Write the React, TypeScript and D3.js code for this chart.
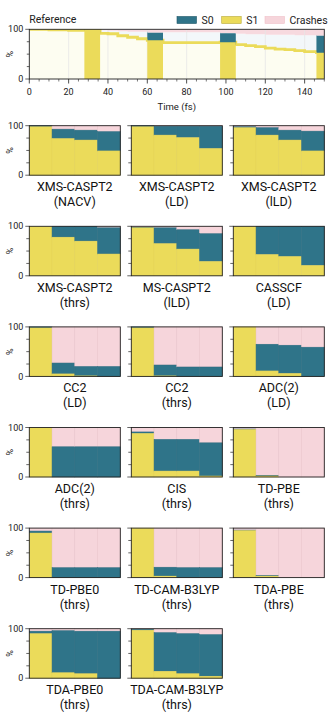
import React from "react";
import * as d3 from "d3";

// ---------- Reference (top panel) data ----------
const refTime = [0, 10, 20, 28, 36, 40, 45, 50, 55, 60, 68, 80, 97, 105, 110, 115, 120, 125, 130, 135, 140, 146, 150];
const refS1 = [100, 99, 98, 100, 92, 91, 87, 84, 81, 78, 73, 73, 74, 69, 67, 65, 62, 60, 59, 57, 55, 53, 53];
const refCrash = [0, 0, 0, 0, 2, 3, 4, 5, 5, 7, 6, 6, 8, 9, 10, 10, 11, 11, 11, 12, 12, 13, 13];
const windowStarts = [28, 60, 97, 146];
const windowEnds = [36, 68, 105, 150];
const timeTicks = [0, 20, 40, 60, 80, 100, 120, 140];

// ---------- Method panels ----------
const methodNames = [
  "XMS-CASPT2", "XMS-CASPT2", "XMS-CASPT2",
  "XMS-CASPT2", "MS-CASPT2", "CASSCF",
  "CC2", "CC2", "ADC(2)",
  "ADC(2)", "CIS", "TD-PBE",
  "TD-PBE0", "TD-CAM-B3LYP", "TDA-PBE",
  "TDA-PBE0", "TDA-CAM-B3LYP",
];
const methodVariants = [
  "(NACV)", "(LD)", "(lLD)",
  "(thrs)", "(lLD)", "(LD)",
  "(LD)", "(thrs)", "(LD)",
  "(thrs)", "(thrs)", "(thrs)",
  "(thrs)", "(thrs)", "(thrs)",
  "(thrs)", "(thrs)",
];
const s1Values = [
  [98, 74, 71, 49], [98, 81, 76, 54], [96, 81, 71, 49],
  [100, 78, 70, 44], [97, 65, 54, 29], [100, 43, 39, 21],
  [98, 5, 1, 0], [98, 1, 0, 0], [100, 11, 6, 0],
  [100, 0, 0, 0], [88, 12, 12, 2], [96, 2, 0, 0],
  [90, 0, 0, 0], [100, 3, 0, 0], [95, 3, 0, 0],
  [90, 11, 9, 0], [97, 14, 9, 4],
];
const s0Values = [
  [2, 19, 20, 39], [2, 18, 23, 45], [2, 15, 20, 40],
  [0, 22, 30, 53], [1, 32, 39, 56], [0, 57, 61, 79],
  [2, 22, 19, 20], [2, 22, 19, 19], [0, 54, 57, 59],
  [0, 61, 61, 61], [3, 64, 64, 67], [1, 1, 0, 0],
  [4, 20, 20, 20], [0, 18, 20, 20], [1, 1, 0, 0],
  [5, 85, 86, 95], [2, 78, 81, 84],
];
const crashValues = [
  [0, 7, 9, 12], [0, 1, 1, 1], [2, 4, 9, 11],
  [0, 0, 0, 3], [2, 3, 7, 15], [0, 0, 0, 0],
  [0, 73, 80, 80], [0, 77, 81, 81], [0, 35, 37, 41],
  [0, 39, 39, 39], [9, 24, 24, 31], [3, 97, 100, 100],
  [6, 80, 80, 80], [0, 79, 80, 80], [4, 96, 100, 100],
  [5, 4, 5, 5], [1, 8, 10, 12],
];
const yTicks = [0, 25, 50, 75, 100];

const FONT = "Roboto, 'Noto Sans', sans-serif";
const C_S0 = "#2f7489";
const C_S1 = "#ebdb5a";
const C_CR = "#f6d5db";
const C_FRAME = "#222";

const PL = 29.3, PR = 324.3;

function TopPanel() {
  const top = 29.3, bottom = 79;
  const x = d3.scaleLinear().domain([0, 150]).range([PL, PR]);
  const y = d3.scaleLinear().domain([0, 100]).range([bottom, top]);
  const pts = refTime.map((t, i) => ({ t, s1: refS1[i], c: refCrash[i] }));
  const aS1 = d3.area<any>().x(d => x(d.t)).y0(y(0)).y1(d => y(d.s1)).curve(d3.curveStepAfter);
  const aS0 = d3.area<any>().x(d => x(d.t)).y0(d => y(d.s1)).y1(d => y(100 - d.c)).curve(d3.curveStepAfter);
  const aCr = d3.area<any>().x(d => x(d.t)).y0(d => y(100 - d.c)).y1(y(100)).curve(d3.curveStepAfter);
  const lS1 = d3.line<any>().x(d => x(d.t)).y(d => y(d.s1)).curve(d3.curveStepAfter);
  const minor = d3.range(0, 151, 5).filter(v => v % 20 !== 0);
  return (
    <g>
      <defs>
        <clipPath id="plotclip"><rect x={PL} y={top} width={PR - PL} height={bottom - top} /></clipPath>
        <clipPath id="winclip">
          {windowStarts.map((s, i) => (
            <rect key={i} x={x(s)} y={top} width={x(windowEnds[i]) - x(s)} height={bottom - top} />
          ))}
        </clipPath>
      </defs>
      <text x={PL} y={22.5} fontSize={10.5} fontFamily={FONT} fill="#222">Reference</text>
      {/* legend */}
      {[["S0", C_S0, "#1d5566", 177], ["S1", C_S1, "#b8a936", 221.7], ["Crashes", C_CR, "#f0c0c8", 265]].map(([lab, c, sc, lx]: any) => (
        <g key={lab}>
          <rect x={lx} y={16.5} width={19.5} height={7} fill={c} stroke={sc} strokeWidth={0.6} />
          <text x={lx + 24.5} y={23.5} fontSize={10.5} fontFamily={FONT} fill="#222">{lab}</text>
        </g>
      ))}
      <g clipPath="url(#plotclip)">
        <path d={aS1(pts)!} fill="#fdfdf1" />
        <path d={aS0(pts)!} fill="#f3f7fa" />
        <path d={aCr(pts)!} fill="#f7d9df" />
        {timeTicks.slice(1).map(t => (
          <line key={t} x1={x(t)} x2={x(t)} y1={top} y2={bottom} stroke="#e6e6e6" strokeWidth={0.8} />
        ))}
        <path d={lS1(pts)!} fill="none" stroke={C_S1} strokeWidth={2.8} />
        <g clipPath="url(#winclip)">
          <path d={aS1(pts)!} fill={C_S1} />
          <path d={aS0(pts)!} fill={C_S0} />
        </g>
      </g>
      <rect x={PL} y={top} width={PR - PL} height={bottom - top} fill="none" stroke={C_FRAME} strokeWidth={0.9} />
      {timeTicks.map(t => (
        <g key={t}>
          <line x1={x(t)} x2={x(t)} y1={bottom} y2={bottom + 4.5} stroke={C_FRAME} strokeWidth={0.8} />
          <text x={x(t)} y={95} textAnchor="middle" fontSize={9} fontFamily={FONT} fill="#222">{t}</text>
        </g>
      ))}
      {minor.map(t => (
        <line key={t} x1={x(t)} x2={x(t)} y1={bottom} y2={bottom + 2.5} stroke={C_FRAME} strokeWidth={0.6} />
      ))}
      {yTicks.map(v => (
        <line key={v} x1={PL} x2={PL - (v % 100 === 0 ? 4 : 2.5)} y1={y(v)} y2={y(v)} stroke={C_FRAME} strokeWidth={0.7} />
      ))}
      {[0, 100].map(v => (
        <text key={v} x={PL - 6} y={y(v)} dy="0.35em" textAnchor="end" fontSize={9} fontFamily={FONT} fill="#222">{v}</text>
      ))}
      <text transform={`translate(9.5,${(top + bottom) / 2}) rotate(-90)`} textAnchor="middle" dy="0.35em" fontSize={9} fontFamily={FONT} fill="#222">%</text>
      <text x={(PL + PR) / 2} y={109.5} textAnchor="middle" fontSize={9.5} fontFamily={FONT} fill="#222">Time (fs)</text>
    </g>
  );
}

function MethodPanel({ i }: { i: number }) {
  const col = i % 3;
  const row = Math.floor(i / 3);
  const pw = 91, ph = 49.5;
  const left = PL + col * 102;
  const top = 125.7 + row * 100.6;
  const bottom = top + ph;
  const x = d3.scaleBand<number>().domain([0, 1, 2, 3]).range([left, left + pw]).padding(0);
  const y = d3.scaleLinear().domain([0, 100]).range([bottom, top]);
  const cols = [0, 1, 2, 3].map(k => {
    const a = s1Values[i][k], b = s0Values[i][k], c = crashValues[i][k];
    return { k, s1: [0, a], s0: [a, a + b], cr: [a + b, a + b + c] };
  });
  const seg = (k: number, r: number[], fill: string, stroke: string, key: string) =>
    r[1] > r[0] ? (
      <rect key={key} x={x(k)!} y={y(r[1])} width={x.bandwidth()} height={y(r[0]) - y(r[1])}
        fill={fill} stroke={stroke} strokeWidth={0.5} />
    ) : null;
  const cx = left + pw / 2;
  return (
    <g>
      {cols.map(cl => (
        <g key={cl.k}>
          {seg(cl.k, cl.cr, C_CR, "#e9c3ca", "c")}
          {seg(cl.k, cl.s0, C_S0, "#2a6a7e", "b")}
          {seg(cl.k, cl.s1, C_S1, "#e3d256", "a")}
        </g>
      ))}
      <rect x={left} y={top} width={pw} height={ph} fill="none" stroke={C_FRAME} strokeWidth={0.9} />
      {yTicks.map(v => (
        <line key={v} x1={left} x2={left - (v % 100 === 0 ? 4 : 3)} y1={y(v)} y2={y(v)} stroke={C_FRAME} strokeWidth={0.7} />
      ))}
      {col === 0 && [0, 100].map(v => (
        <text key={v} x={left - 6} y={y(v)} dy="0.35em" textAnchor="end" fontSize={9} fontFamily={FONT} fill="#222">{v}</text>
      ))}
      {col === 0 && (
        <text transform={`translate(9.5,${(top + bottom) / 2}) rotate(-90)`} textAnchor="middle" dy="0.35em" fontSize={9} fontFamily={FONT} fill="#222">%</text>
      )}
      <text x={cx} y={bottom + 16} textAnchor="middle" fontSize={12.5} fontFamily={FONT} fill="#111">{methodNames[i]}</text>
      <text x={cx} y={bottom + 31} textAnchor="middle" fontSize={12.5} fontFamily={FONT} fill="#111">{methodVariants[i]}</text>
    </g>
  );
}

export default function App() {
  return (
    <svg width={330} height={720} style={{ position: "absolute", left: 0, top: 0, background: "#fff" }}>
      <rect width={330} height={720} fill="#fff" />
      <TopPanel />
      {methodNames.map((_, i) => <MethodPanel key={i} i={i} />)}
    </svg>
  );
}
